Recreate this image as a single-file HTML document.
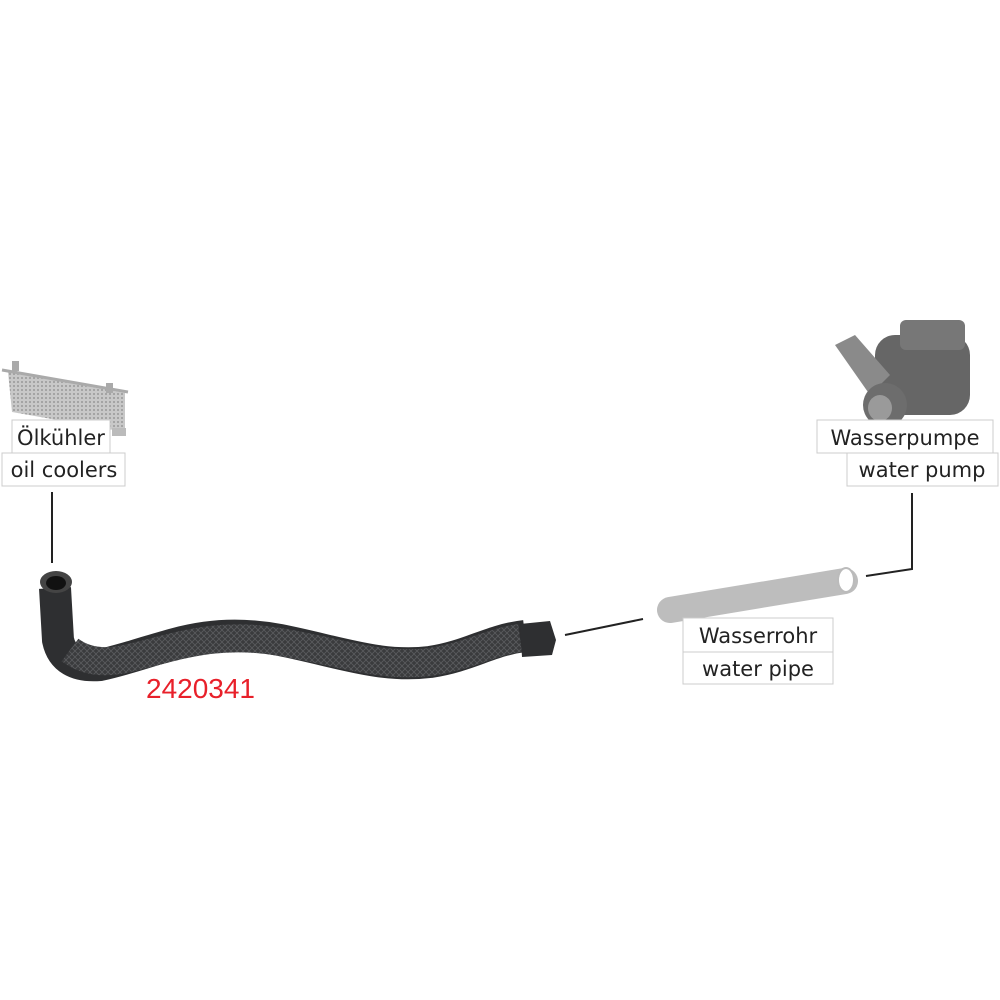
<!DOCTYPE html>
<html><head><meta charset="utf-8"><style>
body{margin:0;background:#fff;width:1000px;height:1000px;overflow:hidden}
svg{display:block}
text{font-family:"DejaVu Sans","Liberation Sans",sans-serif;fill:#222}
</style></head><body>
<svg width="1000" height="1000" viewBox="0 0 1000 1000">
<defs>
<pattern id="braid" width="6" height="6" patternUnits="userSpaceOnUse">
<rect width="6" height="6" fill="#3a3b3d"/>
<path d="M0 0L6 6M6 0L0 6" stroke="#5a5b5e" stroke-width="0.8"/>
</pattern>
<pattern id="mesh" width="4" height="4" patternUnits="userSpaceOnUse">
<rect width="4" height="4" fill="#c8c8c8"/><circle cx="2" cy="2" r="1" fill="#999"/>
</pattern>
</defs>
<!-- oil cooler -->
<g>
<polygon points="8,372 125,393 125,432 12,412" fill="url(#mesh)"/>
<line x1="2" y1="370" x2="128" y2="392" stroke="#aaa" stroke-width="3"/>
<rect x="12" y="361" width="7" height="10" fill="#aaa"/>
<rect x="106" y="383" width="7" height="10" fill="#aaa"/>
<rect x="112" y="428" width="14" height="8" fill="#bbb"/>
</g>
<rect x="12" y="420" width="98" height="33" fill="#fff" stroke="#ccc"/>
<text x="61" y="445" font-size="21" text-anchor="middle">Ölkühler</text>
<rect x="2" y="453" width="123" height="33" fill="#fff" stroke="#ccc"/>
<text x="64" y="477" font-size="21" text-anchor="middle">oil coolers</text>
<line x1="52" y1="492" x2="52" y2="563" stroke="#222" stroke-width="2"/>
<!-- hose -->
<path d="M55,588 L58,640 Q64,668 100,665 C160,652 200,625 280,640 C340,652 380,668 430,662 C470,656 490,640 525,636" fill="none" stroke="#2e2f31" stroke-width="32" stroke-linecap="butt"/>
<path d="M70,650 Q90,665 120,660 C170,650 210,630 280,642 C340,652 380,668 430,662 C470,656 490,642 520,638" fill="none" stroke="url(#braid)" stroke-width="28"/>
<polygon points="520,624 550,621 556,640 552,655 522,657" fill="#2e2f31"/>
<ellipse cx="56" cy="582" rx="16" ry="11" fill="#444"/>
<ellipse cx="56" cy="583" rx="10" ry="7" fill="#111"/>
<text x="146" y="698" font-size="28" style="fill:#e8202a;font-family:'Liberation Sans',sans-serif">2420341</text>
<line x1="565" y1="635" x2="643" y2="619" stroke="#222" stroke-width="2"/>
<!-- water pipe -->
<line x1="670" y1="610" x2="845" y2="581" stroke="#bdbdbd" stroke-width="26" stroke-linecap="round"/>
<ellipse cx="846" cy="580" rx="8" ry="12" fill="#fff" stroke="#bbb" stroke-width="2"/>
<rect x="683" y="618" width="150" height="34" fill="#fff" stroke="#ccc"/>
<text x="758" y="643" font-size="21" text-anchor="middle">Wasserrohr</text>
<rect x="683" y="652" width="150" height="32" fill="#fff" stroke="#ccc"/>
<text x="758" y="676" font-size="21" text-anchor="middle">water pipe</text>
<polyline points="866,576 912,569 912,493" fill="none" stroke="#222" stroke-width="2"/>
<!-- pump -->
<g>
<rect x="875" y="335" width="95" height="80" rx="20" fill="#666"/>
<rect x="900" y="320" width="65" height="30" rx="6" fill="#777"/>
<polygon points="835,345 855,335 890,375 870,395" fill="#8a8a8a"/>
<circle cx="885" cy="405" r="22" fill="#6d6d6d"/>
<ellipse cx="880" cy="408" rx="12" ry="13" fill="#9a9a9a"/>
</g>
<rect x="817" y="420" width="176" height="33" fill="#fff" stroke="#ccc"/>
<text x="905" y="445" font-size="21" text-anchor="middle">Wasserpumpe</text>
<rect x="847" y="453" width="151" height="33" fill="#fff" stroke="#ccc"/>
<text x="922" y="477" font-size="21" text-anchor="middle">water pump</text>
</svg>
</body></html>
